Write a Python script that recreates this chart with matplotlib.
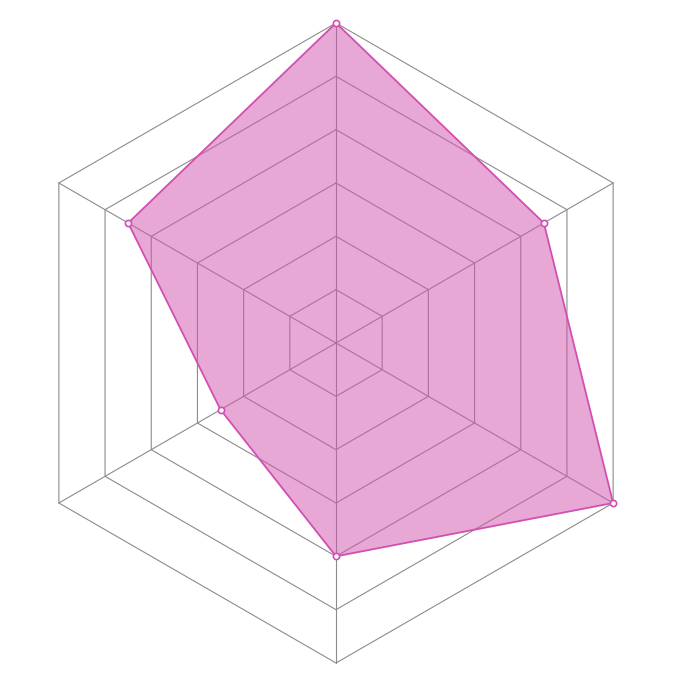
import numpy as np
import matplotlib.pyplot as plt

# radar data, clockwise from the top axis
categories = ['A', 'B', 'C', 'D', 'E', 'F']
values = [6, 4.5, 6, 4, 2.5, 4.5]
max_value = 6
levels = [1, 2, 3, 4, 5, 6]

n = len(categories)
angles = np.pi / 2 - np.arange(n) * 2 * np.pi / n

fig = plt.figure(figsize=(6.88, 6.88), dpi=100)
ax = fig.add_axes([0, 0, 1, 1])
ax.set_xlim(-336 / 320, 352 / 320)
ax.set_ylim(-345 / 320, 343 / 320)
ax.set_aspect('equal')
ax.axis('off')

grid_color = '#8c8c8c'
# hexagon rings
for lv in levels:
    rr = lv / max_value
    hx = np.append(rr * np.cos(angles), rr * np.cos(angles[0]))
    hy = np.append(rr * np.sin(angles), rr * np.sin(angles[0]))
    ax.plot(hx, hy, color=grid_color, lw=0.8, zorder=1)
# spokes
for a in angles:
    ax.plot([0, np.cos(a)], [0, np.sin(a)], color=grid_color, lw=0.8, zorder=1)

r = np.array(values) / max_value
px = r * np.cos(angles)
py = r * np.sin(angles)
ax.fill(px, py, color='#d153ae', alpha=0.5, lw=0, zorder=2)
ax.plot(np.append(px, px[0]), np.append(py, py[0]), color='#d24fb0', lw=1.3, zorder=3)
ax.scatter(px, py, s=20, facecolor='white', edgecolor='#d24fb0', linewidth=1.2, zorder=4)

plt.savefig('out.png', dpi=100)
